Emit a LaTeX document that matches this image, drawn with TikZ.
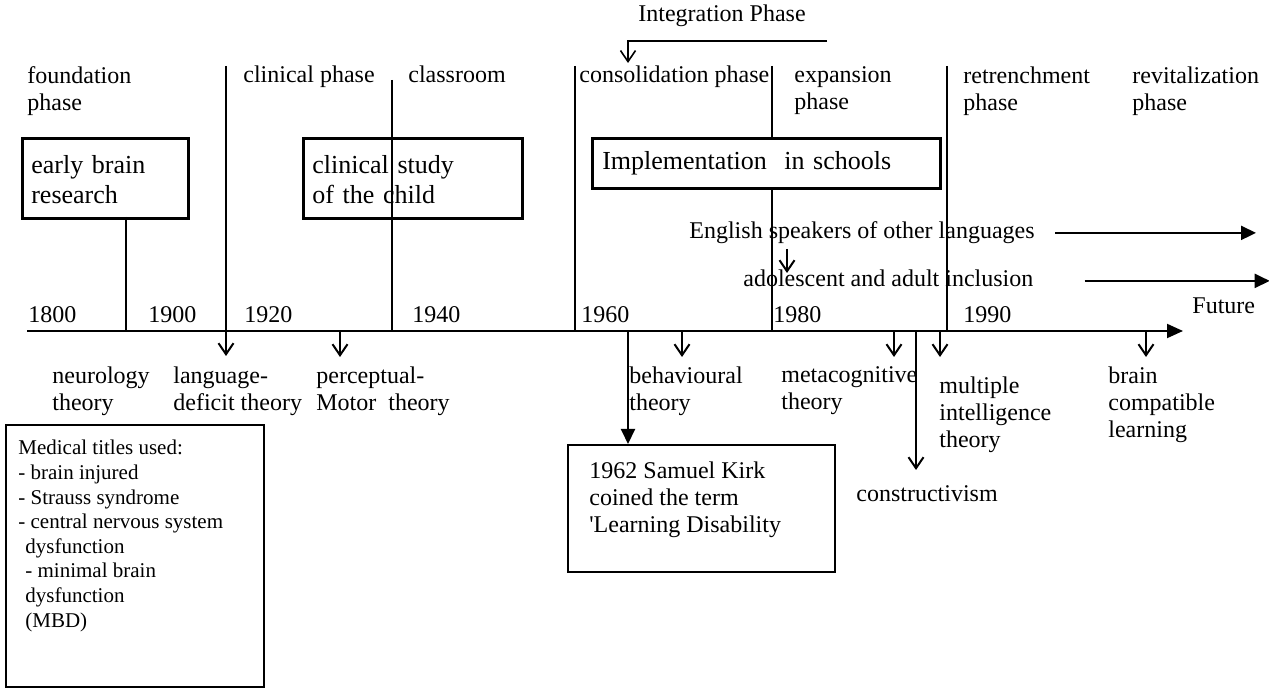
\documentclass[tikz,border=0pt]{standalone}
\usepackage{fontspec}
\setmainfont{Liberation Serif}
\usetikzlibrary{arrows.meta}

\tikzset{
  lbl/.style={inner sep=0pt, anchor=north west, align=left,
    font=\fontsize{12}{13.5}\selectfont, execute at begin node=\strut},
  medlbl/.style={lbl, font=\fontsize{10.5}{12.3}\selectfont},
  phasebox/.style={draw, line width=1.3pt, anchor=north west, inner xsep=4.5pt,
    inner ysep=0pt, align=left, font=\fontsize{13}{15}\selectfont,
    execute at begin node=\strut},
  plainbox/.style={draw, line width=0.8pt, anchor=north west, inner sep=0pt},
  divider/.style={line width=0.8pt},
  vtip/.style={line width=1pt, -{Straight Barb[length=5.5pt,width=7.5pt]}},
  filltip/.style={line width=1pt, -{Triangle[length=7.5pt,width=7pt]}},
}

\begin{document}
\begin{tikzpicture}[x=0.5pt, y=-0.5pt]
  \useasboundingbox (0,0) rectangle (1269,688);

  % phase dividers
  \draw[divider] (126,217) -- (126,331);
  \foreach \x/\t in {392/80, 575/66, 772/66, 947/66}
    \draw[divider] (\x,\t) -- (\x,331);
  \draw[vtip] (226,66) -- (226,356);

  % time line
  \draw[line width=1pt, -{Triangle[length=8pt,width=7pt]}] (27,331) -- (1183,331);
  \foreach \yr/\x in {1800/28, 1900/148, 1920/244, 1940/412, 1960/581, 1980/773, 1990/963}
    \node[lbl] (y\yr) at (\x,303) {\yr};
  \node[lbl] (future) at (1192,294) {Future};

  % phase names
  \node[lbl] (integ) at (638,2) {Integration Phase};
  \node[lbl] (found) at (27,66) {foundation\\phase};
  \node[lbl] (clin) at (243,63) {clinical phase};
  \node[lbl] (class) at (408,63) {classroom};
  \node[lbl] (consol) at (579,63) {consolidation phase};
  \node[lbl] (expan) at (794,66) {expansion\\phase};
  \node[lbl] (retr) at (963,66) {retrenchment\\phase};
  \node[lbl] (revit) at (1132,66) {revitalization\\phase};
  \draw[vtip, line width=0.8pt] (827,41) -- (628,41) -- (628,0 |- consol.north);

  \node[phasebox, text width=74pt, minimum height=40pt] (early) at (21,137) {early brain\\research};
  \node[phasebox, text width=100.5pt, minimum height=40pt] (study) at (302,137) {clinical study\\of the child};
  \node[phasebox, fill=white, inner xsep=5pt, text width=164pt, minimum height=25pt] (impl) at (591,137) {Implementation~ in schools};

  % inclusion
  \node[lbl] (esl) at (689,219) {English speakers of other languages};
  \node[lbl] (adol) at (743,267) {adolescent and adult inclusion};
  \draw[filltip] ([xshift=10pt]esl.east) -- ++(100.5pt,0);
  \draw[filltip] ([xshift=25.5pt]adol.east) -- ++(92.5pt,0);
  \draw[vtip] (787,249) -- (787,273);

  % theories
  \foreach \x in {340, 682, 894, 940, 1146}
    \draw[vtip] (\x,331) -- (\x,357);
  \draw[vtip] (916,331) -- (916,470);
  \node[lbl] (neuro) at (52,366) {neurology\\theory};
  \node[lbl] (lang) at (173,366) {language-\\deficit theory};
  \node[lbl] (motor) at (316,366) {perceptual-\\Motor~ theory};
  \node[lbl] (behav) at (629,366) {behavioural\\theory};
  \node[lbl] (meta) at (781,366) {metacognitive\\theory};
  \node[lbl] (multi) at (939,376) {multiple\\intelligence\\theory};
  \node[lbl] (compat) at (1108,366) {brain\\compatible\\learning};
  \node[lbl] (constr) at (856,482) {constructivism};

  % Kirk
  \node[plainbox, minimum width=133.5pt, minimum height=63.5pt] (kirk) at (567,444) {};
  \node[lbl] (kirktxt) at ([xshift=11pt,yshift=-8.5pt]kirk.north west)
    {1962 Samuel Kirk\\coined the term\\\textquotesingle Learning Disability};
  \draw[filltip] (628,331) -- (628,0 |- kirk.north);

  % medical titles
  \node[plainbox, minimum width=129pt, minimum height=131pt] (med) at (5,424) {};
  \node[medlbl] (medtxt) at ([xshift=6.5pt,yshift=-8pt]med.north west)
    {Medical titles used:\\- brain injured\\- Strauss syndrome\\- central nervous system\\
     \hspace*{3.5pt}dysfunction\\\hspace*{3.5pt}- minimal brain\\\hspace*{3.5pt}dysfunction\\
     \hspace*{3.5pt}(MBD)};
\end{tikzpicture}
\end{document}
